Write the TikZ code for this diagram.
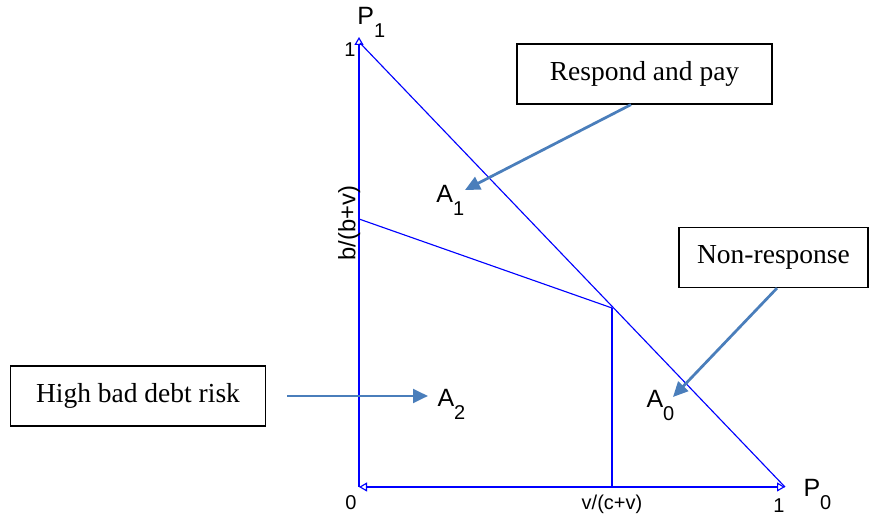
\documentclass[tikz,border=0pt]{standalone}
\usepackage{fontspec}
\setmainfont{Liberation Serif}
\setsansfont{Liberation Sans}
\usetikzlibrary{arrows.meta,positioning}
\newcommand{\dn}[1]{\raisebox{-5pt}{\fontsize{8}{9}\selectfont #1}}

\begin{document}
\begin{tikzpicture}[x=0.4pt,y=-0.4pt]
\tikzstyle{axis}=[draw=blue,line width=0.45pt]
\tikzstyle{box}=[draw=black,line width=0.5pt,minimum width=102pt,
minimum height=24pt,font=\fontsize{11}{13}\selectfont]
\tikzstyle{pointer}=[draw={rgb,255:red,74;green,126;blue,187},line width=1.1pt,
-{Triangle[length=6pt,width=5.5pt]}]
\tikzstyle{lab}=[font=\sffamily\fontsize{8}{9}\selectfont,inner sep=0pt]
\tikzstyle{region}=[font=\sffamily\fontsize{10}{11}\selectfont,inner sep=0pt,anchor=base west]
\useasboundingbox (0,0) rectangle (869,517);

% corners of the simplex
\coordinate (O) at (359,487);
\coordinate (P1) at (359,37);
\coordinate (P0) at (785,487);
\coordinate (top) at (360,43);
\coordinate (b) at (359,219);
\coordinate (cut) at (612,308);
\coordinate (v) at (612,487);

\draw[axis,-{Triangle[open,length=3.2pt,width=3.6pt]}] (O) -- (P1);
\draw[axis,{Triangle[open,length=3.2pt,width=3.6pt]}-{Triangle[open,length=3.2pt,width=3.6pt]}] (O) -- (P0);
\draw[axis] (top) -- (P0);
\draw[axis] (b) -- (cut);
\draw[axis] (cut) -- (v);

% axis labels
\node[region] at (357,25) (p1) {P\dn{1}};
\node[region] at (803,497) (p0) {P\dn{0}};
\node[lab,anchor=base] at (350,57) (one1) {1};
\node[lab,anchor=base] at (351,510) (zero) {0};
\node[lab,anchor=base] at (779,513) (one0) {1};
\node[lab,anchor=base] at (612,510) (vcv) {v/(c+v)};
\node[lab,font=\sffamily\fontsize{9.5}{11}\selectfont,rotate=90,anchor=base] at (355.5,223) (bbv) {b/(b+v)};

% regions
\node[region] at (436,203) (a1) {A\dn{1}};
\node[region] at (437,407) (a2) {A\dn{2}};
\node[region] at (646,408) (a0) {A\dn{0}};

% explanation boxes
\node[box] at (644.5,74) (pay) {Respond and pay};
\node[box,minimum width=75.6pt] at (773.5,257.5) (nonresp) {Non-response};
\node[box] at (138,396) (risk) {High bad debt risk};

\coordinate (t1) at (465,190);
\coordinate (t0) at (673,397);
\coordinate (t2) at (428,396);
\draw[pointer] ([xshift=-5.4pt]pay.south) -- (t1);
\draw[pointer] ([xshift=1.4pt]nonresp.south) -- (t0);
\draw[pointer] ([xshift=8.4pt]risk.east) -- (t2);

\end{tikzpicture}
\end{document}
